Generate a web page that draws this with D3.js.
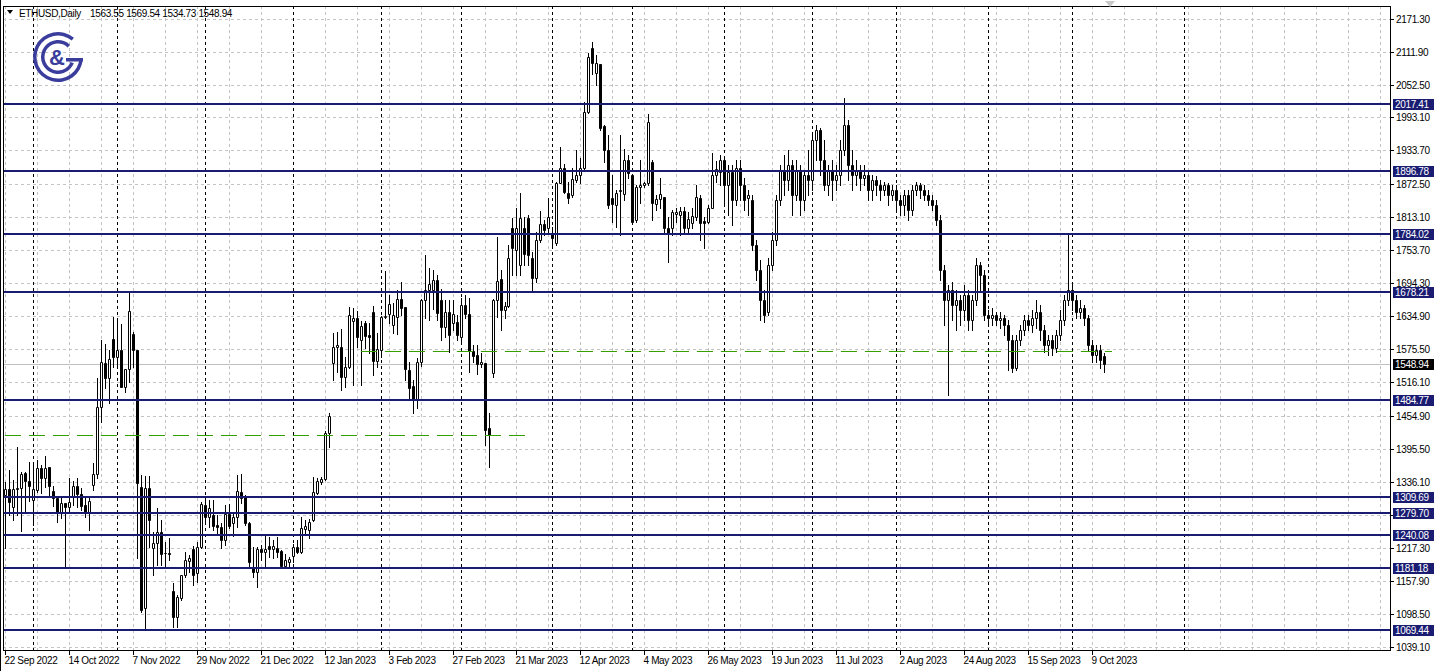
<!DOCTYPE html>
<html><head><meta charset="utf-8">
<script src="https://cdn.jsdelivr.net/npm/d3@7"></script>
<style>body{margin:0;background:#fff;overflow:hidden}svg{display:block}text{font-family:"Liberation Sans",Arial,sans-serif;letter-spacing:-0.35px}</style>
</head><body><svg id="c" width="1438" height="671"></svg>
<script>
const symbolTitle = "ETHUSD,Daily";
const startDate = "2022-09-22";
const openP = [1312.8,1323.6,1291.1,1323.6,1325.4,1352.4,1338.0,1303.7,1321.8,1361.4,1343.4,1363.2,1320.0,1307.4,1280.3,1298.3,1291.1,1309.2,1329.0,1314.6,1294.7,1280.3,1330.8,1350.6,1471.3,1550.6,1523.6,1593.9,1561.4,1574.0,1507.4,1539.8,1602.9,1574.0,1327.2,1109.1,1325.4,1217.2,1226.2,1246.1,1208.2,1208.2,1139.7,1092.8,1127.1,1168.5,1193.8,1215.4,1172.2,1219.0,1294.7,1273.1,1276.7,1258.7,1255.1,1231.6,1278.5,1262.3,1273.1,1318.2,1311.0,1262.3,1181.2,1174.0,1215.4,1210.0,1220.8,1215.4,1217.2,1211.8,1184.8,1192.0,1202.8,1219.0,1210.0,1251.5,1249.7,1267.7,1316.4,1336.2,1341.6,1424.5,1550.6,1579.4,1579.4,1525.4,1543.4,1626.3,1631.7,1592.1,1622.7,1601.1,1642.5,1554.2,1574.0,1633.5,1638.9,1619.1,1633.5,1666.0,1651.5,1538.0,1509.2,1483.9,1552.4,1664.2,1682.2,1682.2,1700.2,1664.2,1615.5,1642.5,1622.7,1624.5,1597.5,1655.1,1638.9,1572.2,1565.0,1548.8,1550.6,1433.5,1532.6,1664.2,1702.0,1646.1,1653.3,1793.9,1754.3,1727.2,1793.9,1811.9,1739.8,1703.8,1772.3,1801.1,1793.9,1784.9,1766.9,1875.0,1902.0,1857.0,1853.4,1880.4,1889.4,1902.0,2003.0,2118.3,2073.2,2089.5,1977.7,1934.5,1848.0,1835.3,1860.6,1855.2,1916.4,1889.4,1808.3,1867.8,1871.4,1875.0,1912.8,1837.2,1846.2,1849.8,1793.9,1793.9,1819.1,1817.3,1824.5,1793.9,1802.9,1813.7,1848.0,1806.5,1804.7,1829.9,1889.4,
1894.8,1916.4,1871.4,1894.8,1844.4,1902.0,1871.4,1848.0,1844.4,1763.3,1718.2,1664.2,1642.5,1727.2,1772.3,1844.4,1898.4,1880.4,1907.4,1853.4,1898.4,1844.4,1889.4,1880.4,1952.5,1970.5,1916.4,1871.4,1898.4,1880.4,1889.4,1934.5,1979.5,1907.4,1889.4,1898.4,1884.0,1889.4,1862.4,1880.4,1871.4,1862.4,1871.4,1853.4,1862.4,1844.4,1835.3,1853.4,1826.3,1862.4,1871.4,1862.4,1853.4,1844.4,1835.3,1808.3,1718.2,1664.2,1682.2,1655.1,1664.2,1646.1,1673.2,1628.1,1664.2,1727.2,1709.2,1637.1,1631.7,1637.1,1628.1,1631.7,1619.1,1592.1,1541.6,1592.1,1610.1,1628.1,1619.1,1631.7,1642.5,1610.1,1583.1,1592.1,1577.6,1601.1,1628.1,1664.2,1682.2,1664.2,1642.5,1649.7,1631.7,1583.1,1565.0,1574.0,1563.55];
const highP = [1336.2,1357.8,1339.8,1399.2,1354.2,1354.2,1372.2,1372.2,1375.8,1366.8,1383.0,1363.2,1329.0,1307.4,1307.4,1298.3,1343.4,1338.0,1343.4,1325.4,1307.4,1309.2,1370.4,1523.6,1592.1,1584.9,1574.0,1633.5,1626.3,1620.9,1539.8,1678.6,1606.5,1574.0,1348.8,1347.0,1347.0,1246.1,1289.3,1267.7,1228.0,1235.2,1154.1,1132.5,1168.5,1210.0,1204.6,1220.8,1228.0,1300.1,1307.4,1303.7,1303.7,1276.7,1262.3,1294.7,1296.5,1282.1,1348.8,1350.6,1312.8,1264.1,1219.0,1219.0,1222.6,1238.8,1237.0,1231.6,1237.0,1213.6,1206.4,1201.0,1224.4,1231.6,1273.1,1267.7,1269.5,1345.2,1343.4,1345.2,1428.0,1460.5,1604.7,1606.5,1611.9,1561.4,1651.5,1649.7,1644.3,1626.3,1626.3,1622.7,1653.3,1604.7,1635.3,1716.4,1673.2,1658.8,1682.2,1696.6,1651.5,1552.4,1520.0,1559.6,1666.0,1745.3,1721.8,1718.2,1709.2,1684.0,1664.2,1664.2,1664.2,1637.1,1667.8,1673.2,1667.8,1583.1,1583.1,1568.6,1550.6,1460.5,1666.0,1777.7,1718.2,1660.6,1763.3,1811.9,1829.9,1857.0,1813.7,1817.3,1750.7,1786.7,1824.5,1808.3,1848.0,1795.7,1876.8,1939.9,1909.3,1876.8,1902.0,1934.5,1920.1,2021.0,2109.3,2129.1,2105.7,2089.5,1979.5,1961.5,1889.4,1862.4,1961.5,1936.3,1925.5,1889.4,1871.4,1916.4,1876.8,1999.4,1916.4,1853.4,1884.0,1849.8,1813.7,1826.3,1829.9,1831.7,1831.7,1822.7,1829.9,1871.4,1853.4,1813.7,1835.3,1929.1,1914.6,
1925.5,1920.1,1907.4,1907.4,1916.4,1916.4,1884.0,1862.4,1853.4,1772.3,1736.2,1682.2,1739.8,1786.7,1853.4,1907.4,1925.5,1934.5,1916.4,1916.4,1907.4,1898.4,1934.5,1961.5,1979.5,1974.1,1952.5,1907.4,1916.4,1907.4,1952.5,2028.2,1988.5,1934.5,1916.4,1907.4,1907.4,1894.8,1889.4,1887.6,1880.4,1876.8,1875.0,1871.4,1871.4,1853.4,1862.4,1862.4,1871.4,1876.8,1875.0,1871.4,1862.4,1853.4,1844.4,1817.3,1727.2,1691.2,1696.6,1682.2,1673.2,1691.2,1682.2,1673.2,1739.8,1732.6,1718.2,1646.1,1649.7,1642.5,1642.5,1637.1,1628.1,1601.1,1601.1,1619.1,1637.1,1637.1,1646.1,1664.2,1655.1,1619.1,1601.1,1601.1,1610.1,1646.1,1673.2,1784.9,1691.2,1673.2,1664.2,1655.1,1637.1,1592.1,1583.1,1583.1,1569.54];
const lowP = [1217.2,1276.7,1267.7,1276.7,1247.9,1282.1,1301.9,1258.7,1318.2,1316.4,1327.2,1312.8,1292.9,1264.1,1271.3,1181.2,1282.1,1294.7,1291.1,1285.7,1273.1,1249.7,1321.8,1343.4,1444.3,1505.6,1478.5,1543.4,1547.0,1507.4,1498.4,1516.4,1543.4,1199.2,1101.8,1073.0,1219.0,1168.5,1186.6,1186.6,1183.0,1195.6,1074.8,1074.8,1123.5,1164.9,1174.0,1150.5,1155.9,1217.2,1264.1,1255.1,1249.7,1240.6,1217.2,1222.6,1253.3,1238.8,1255.1,1298.3,1258.7,1183.0,1164.9,1146.9,1195.6,1183.0,1201.0,1199.2,1201.0,1181.2,1181.2,1181.2,1192.0,1208.2,1208.2,1244.3,1235.2,1265.9,1314.6,1332.6,1339.8,1399.2,1520.0,1534.4,1502.0,1507.4,1541.6,1511.0,1579.4,1511.0,1577.6,1568.6,1529.0,1543.4,1561.4,1631.7,1622.7,1604.7,1602.9,1637.1,1520.0,1483.9,1460.5,1469.5,1545.2,1631.7,1628.1,1647.9,1628.1,1592.1,1597.5,1570.4,1610.1,1592.1,1588.5,1631.7,1534.4,1552.4,1530.8,1543.4,1402.8,1363.2,1525.4,1633.5,1610.1,1631.7,1651.5,1709.2,1709.2,1709.2,1727.2,1727.2,1682.2,1696.6,1768.7,1781.3,1786.7,1757.9,1763.3,1875.0,1857.0,1839.0,1849.8,1876.8,1875.0,1898.4,2001.2,2071.4,2051.6,1970.5,1912.8,1829.9,1804.7,1795.7,1781.3,1844.4,1884.0,1802.9,1804.7,1839.0,1867.8,1871.4,1808.3,1826.3,1829.9,1784.9,1732.6,1781.3,1804.7,1781.3,1784.9,1786.7,1793.9,1808.3,1772.3,1757.9,1802.9,1829.9,1876.8,
1871.4,1835.3,1817.3,1799.3,1835.3,1844.4,1826.3,1817.3,1754.3,1700.2,1628.1,1624.5,1637.1,1718.2,1763.3,1835.3,1853.4,1862.4,1817.3,1844.4,1817.3,1826.3,1853.4,1862.4,1916.4,1889.4,1862.4,1853.4,1844.4,1862.4,1871.4,1925.5,1880.4,1862.4,1871.4,1862.4,1871.4,1844.4,1844.4,1853.4,1844.4,1853.4,1835.3,1844.4,1826.3,1817.3,1817.3,1808.3,1817.3,1853.4,1848.0,1844.4,1835.3,1826.3,1799.3,1700.2,1619.1,1493.0,1628.1,1610.1,1619.1,1628.1,1610.1,1610.1,1655.1,1682.2,1628.1,1619.1,1619.1,1619.1,1613.7,1601.1,1538.0,1534.4,1538.0,1583.1,1601.1,1610.1,1606.5,1613.7,1592.1,1570.4,1565.0,1565.0,1570.4,1592.1,1619.1,1655.1,1646.1,1631.7,1631.7,1619.1,1574.0,1552.4,1552.4,1541.6,1534.73];
const closeP = [1323.6,1300.1,1323.6,1325.4,1350.6,1338.0,1329.0,1323.6,1361.4,1343.4,1361.4,1329.0,1307.4,1280.3,1298.3,1291.1,1300.1,1329.0,1314.6,1292.9,1280.3,1301.9,1350.6,1471.3,1552.4,1523.6,1557.8,1561.4,1574.0,1507.4,1539.8,1644.3,1574.0,1334.4,1105.4,1325.4,1267.7,1226.2,1246.1,1206.4,1207.5,1206.4,1092.8,1128.9,1168.5,1195.6,1199.2,1168.5,1219.0,1296.5,1273.1,1289.3,1256.9,1255.1,1231.6,1278.5,1256.9,1273.1,1320.0,1307.4,1262.3,1192.0,1174.0,1215.4,1210.0,1215.4,1215.4,1220.8,1210.0,1184.8,1195.6,1197.4,1219.0,1210.0,1253.3,1256.9,1264.1,1318.2,1338.0,1341.6,1424.5,1455.1,1579.4,1583.1,1525.4,1543.4,1637.1,1631.7,1597.5,1617.3,1599.3,1597.5,1554.2,1575.8,1633.5,1635.3,1657.0,1637.1,1666.0,1649.7,1539.8,1505.6,1483.9,1552.4,1664.2,1682.2,1693.0,1700.2,1640.7,1615.5,1642.5,1601.1,1638.9,1601.1,1655.1,1638.9,1572.2,1563.2,1548.8,1552.4,1429.9,1420.9,1664.2,1698.4,1646.1,1653.3,1739.8,1757.9,1793.9,1811.9,1747.1,1745.3,1703.8,1772.3,1801.1,1790.3,1813.7,1775.9,1875.0,1902.0,1858.8,1848.0,1882.2,1889.4,1902.0,2003.0,2102.1,2091.3,2091.3,1974.1,1934.5,1835.3,1837.2,1857.0,1862.4,1916.4,1893.0,1804.7,1867.8,1871.4,1875.0,1984.9,1839.0,1846.2,1855.2,1793.9,1784.9,1822.7,1822.7,1824.5,1793.9,1810.1,1815.5,1849.8,1802.9,1802.9,1829.9,1889.4,1900.2,
1916.4,1871.4,1894.8,1844.4,1902.0,1871.4,1844.4,1853.4,1763.3,1718.2,1664.2,1637.1,1727.2,1772.3,1844.4,1898.4,1880.4,1907.4,1853.4,1898.4,1844.4,1889.4,1880.4,1952.5,1970.5,1916.4,1871.4,1898.4,1880.4,1889.4,1934.5,1979.5,1907.4,1889.4,1898.4,1884.0,1889.4,1862.4,1880.4,1871.4,1862.4,1871.4,1853.4,1862.4,1844.4,1835.3,1853.4,1826.3,1862.4,1871.4,1862.4,1853.4,1844.4,1835.3,1808.3,1718.2,1664.2,1682.2,1655.1,1664.2,1646.1,1673.2,1628.1,1664.2,1727.2,1709.2,1637.1,1631.7,1637.1,1628.1,1631.7,1619.1,1592.1,1541.6,1592.1,1610.1,1628.1,1619.1,1631.7,1642.5,1610.1,1583.1,1592.1,1577.6,1601.1,1628.1,1664.2,1682.2,1664.2,1642.5,1649.7,1631.7,1583.1,1565.0,1574.0,1556.0,1548.94];
const lastQuote = [1563.55, 1569.54, 1534.73, 1548.94];
const yTickValues = [2171.30,2111.90,2052.50,1993.10,1933.70,1872.50,1813.10,1753.70,1694.30,1634.90,1575.50,1516.10,1454.90,1395.50,1336.10,1276.70,1217.30,1157.90,1098.50,1039.10];
const xTickLabels = ["22 Sep 2022","14 Oct 2022","7 Nov 2022","29 Nov 2022","21 Dec 2022","12 Jan 2023","3 Feb 2023","27 Feb 2023","21 Mar 2023","12 Apr 2023","4 May 2023","26 May 2023","19 Jun 2023","11 Jul 2023","2 Aug 2023","24 Aug 2023","15 Sep 2023","9 Oct 2023"];
const levelValues = [2017.41,1896.78,1784.02,1678.21,1484.77,1309.69,1279.70,1240.08,1181.18,1069.44];
const dashedLevelValues = [1572.2, 1420.9];
const dashedLevelFrom = [89, 0];
const dashedLevelTo = [277, 131];
const markerDates = ["9 Nov 2023"];

const W = 1438, H = 671;
const plot = {l: 3, t: 6, r: 1390, b: 650};
const svg = d3.select("#c");
const n = Math.min(openP.length, highP.length, lowP.length, closeP.length);
const bars = d3.range(n).map(i => ({o: openP[i], h: highP[i], l: lowP[i], c: closeP[i]}));

const fmt = d3.timeFormat("%-d %b %Y");
const dates = [];
let d0 = d3.timeParse("%Y-%m-%d")(startDate);
while (dates.length < 360) { const wd = d0.getDay(); if (wd !== 0 && wd !== 6) dates.push(new Date(d0)); d0 = d3.timeDay.offset(d0, 1); }

const x = d3.scaleLinear().domain([0, 275]).range([5, 5 + 275 * 3.996]);
const y = d3.scaleLinear().domain([1069.44, 2017.41]).range([630, 104]);
const maxIdx = Math.floor(x.invert(plot.r - 1));

svg.append("rect").attr("width", W).attr("height", H).attr("fill", "#fff");

const grid = svg.append("g");
yTickValues.forEach(v => {
  const yy = Math.round(y(v)) + 0.5;
  grid.append("line").attr("x1", plot.l).attr("x2", plot.r).attr("y1", yy).attr("y2", yy)
    .attr("stroke", "#c4c4c4").attr("stroke-dasharray", "3,3");
});
for (let i = 0; i <= maxIdx; i += 8) {
  const xx = Math.round(x(i)) + 0.5;
  grid.append("line").attr("x1", xx).attr("x2", xx).attr("y1", plot.t).attr("y2", plot.b)
    .attr("stroke", "#c4c4c4").attr("stroke-dasharray", "3,3");
}
const sepIdx = [];
for (let i = 1; i <= Math.min(maxIdx, n + 10); i++) {
  if (dates[i].getMonth() !== dates[i - 1].getMonth()) sepIdx.push(i);
}
markerDates.forEach(md => { const i = dates.findIndex(d => fmt(d) === md); if (i >= 0) sepIdx.push(i); });
sepIdx.forEach(i => {
  const xx = Math.round(x(i)) + 0.5;
  grid.append("line").attr("x1", xx).attr("x2", xx).attr("y1", plot.t).attr("y2", plot.b)
    .attr("stroke", "#000").attr("stroke-dasharray", "3,3");
});
const lastY = Math.round(y(lastQuote[3])) + 0.5;
svg.append("line").attr("x1", plot.l).attr("x2", plot.r).attr("y1", lastY).attr("y2", lastY).attr("stroke", "#c0c0c0");

const cg = svg.append("g");
bars.forEach((b, i) => {
  const cx = Math.round(x(i));
  const yh = Math.round(y(b.h)), yl = Math.round(y(b.l));
  cg.append("line").attr("x1", cx + 0.5).attr("x2", cx + 0.5).attr("y1", yh).attr("y2", yl + 1).attr("stroke", "#000");
  const yo = Math.round(y(b.o)), yc = Math.round(y(b.c));
  const top = Math.min(yo, yc), bot = Math.max(yo, yc);
  cg.append("path").attr("d", `M${cx - 0.5},${top + 0.5}h2v${bot - top}h-2z`)
    .attr("fill", b.c >= b.o ? "#fff" : "#000").attr("stroke", "#000");
});

dashedLevelValues.forEach((v, k) => {
  const yy = Math.round(y(v)) + 0.5;
  svg.append("line").attr("x1", Math.round(x(dashedLevelFrom[k]))).attr("x2", Math.round(x(dashedLevelTo[k]))).attr("y1", yy).attr("y2", yy)
    .attr("stroke", "#33a000").attr("stroke-width", 1).attr("stroke-dasharray", "16,8");
});
const navy = "#1a1c72";
levelValues.forEach(v => {
  const yy = Math.round(y(v));
  svg.append("rect").attr("x", plot.l).attr("width", plot.r - plot.l).attr("y", yy - 1).attr("height", 2).attr("fill", navy);
});

const fr = svg.append("g").attr("stroke", "#000").attr("fill", "none");
fr.append("line").attr("x1", 0.5).attr("x2", 0.5).attr("y1", 0).attr("y2", H);
fr.append("rect").attr("x", plot.l + 0.5).attr("y", plot.t + 0.5).attr("width", plot.r - plot.l).attr("height", plot.b - plot.t);

const ax = svg.append("g");
yTickValues.forEach(v => {
  const yy = Math.round(y(v)) + 0.5;
  ax.append("line").attr("x1", plot.r).attr("x2", plot.r + 4).attr("y1", yy).attr("y2", yy).attr("stroke", "#000");
  ax.append("text").attr("x", plot.r + 6).attr("y", yy + 3.5).attr("font-size", 10).attr("fill", "#000").text(v.toFixed(2));
});
levelValues.forEach(v => {
  const yy = Math.round(y(v));
  ax.append("rect").attr("x", plot.r + 3).attr("y", yy - 5).attr("width", 41).attr("height", 11).attr("fill", navy);
  ax.append("text").attr("x", plot.r + 5).attr("y", yy + 4).attr("font-size", 10).attr("fill", "#fff").text(v.toFixed(2));
});
{
  const yy = Math.round(y(lastQuote[3]));
  ax.append("rect").attr("x", plot.r + 3).attr("y", yy - 5).attr("width", 41).attr("height", 11).attr("fill", "#000");
  ax.append("text").attr("x", plot.r + 5).attr("y", yy + 4).attr("font-size", 10).attr("fill", "#fff").text(lastQuote[3].toFixed(2));
}

xTickLabels.forEach(lab => {
  const i = dates.findIndex(d => fmt(d) === lab);
  if (i < 0) return;
  const xx = Math.round(x(i)) + 0.5;
  ax.append("line").attr("x1", xx).attr("x2", xx).attr("y1", plot.b).attr("y2", plot.b + 5).attr("stroke", "#000");
  ax.append("text").attr("x", xx - 1).attr("y", 664).attr("font-size", 10).attr("fill", "#000").text(lab);
});

svg.append("path").attr("d", "M7,10h6l-3,4z").attr("fill", "#000");
svg.append("text").attr("x", 19).attr("y", 17).attr("font-size", 10).text(symbolTitle);
svg.append("text").attr("x", 90).attr("y", 17).attr("font-size", 10).text(lastQuote.map(v => v.toFixed(2)).join(" "));
svg.append("path").attr("d", "M1105,1h10l-5,6z").attr("fill", "#c8c8c8");

const lc = "#3b3d9c", lx = 58, ly = 57;
const arc1 = d3.arc().innerRadius(21.5).outerRadius(25).startAngle(Math.PI * 0.52).endAngle(Math.PI * 2.22);
const arc2 = d3.arc().innerRadius(13.5).outerRadius(17).startAngle(Math.PI * 0.62).endAngle(Math.PI * 2.25);
svg.append("path").attr("d", arc1()).attr("transform", `translate(${lx},${ly})`).attr("fill", lc);
svg.append("path").attr("d", arc2()).attr("transform", `translate(${lx},${ly})`).attr("fill", lc);
svg.append("rect").attr("x", lx + 8).attr("y", ly + 1).attr("width", 17).attr("height", 3.5).attr("fill", lc);
svg.append("text").attr("x", lx - 1).attr("y", ly + 8).attr("text-anchor", "middle").attr("font-size", 22).attr("font-weight", "bold").attr("fill", lc).style("letter-spacing", "0").text("&");
</script></body></html>
